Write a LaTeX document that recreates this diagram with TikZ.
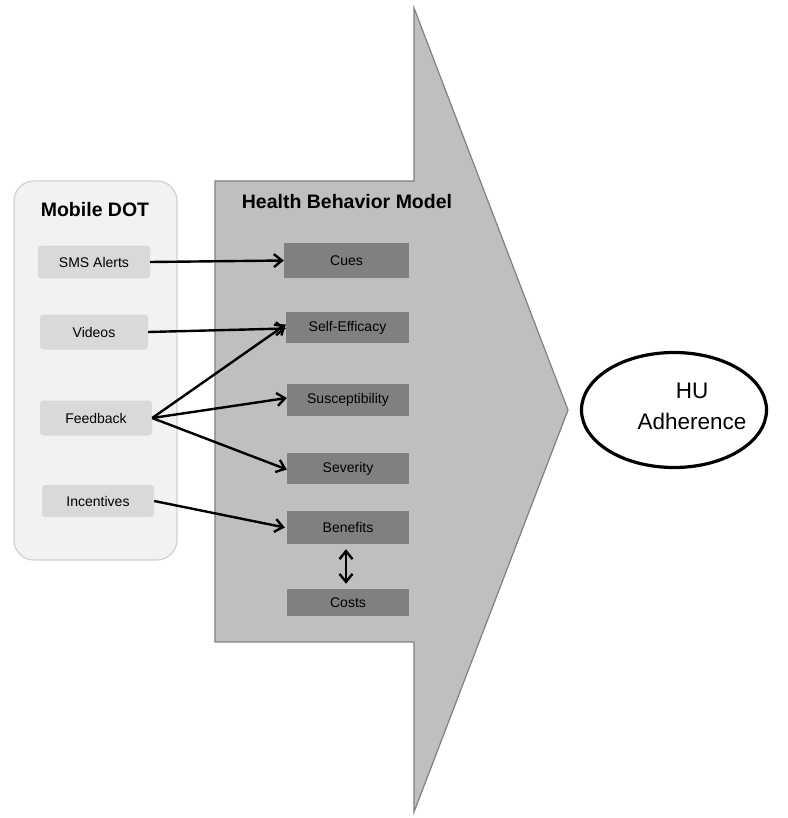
\documentclass[tikz,border=0pt]{standalone}
\usepackage{fontspec}
\setmainfont{Liberation Sans}
\usetikzlibrary{arrows.meta,shapes.geometric}
\begin{document}
\begin{tikzpicture}[x=1pt,y=-1pt,
  lbox/.style={draw=none,fill=black!15,rounded corners=3pt,minimum width=112pt,minimum height=33pt,font=\fontsize{14}{16}\selectfont,inner sep=0pt},
  rbox/.style={draw=none,fill=black!50,minimum width=123pt,minimum height=32pt,font=\fontsize{14}{16}\selectfont,inner sep=0pt},
  mytip/.tip={Straight Barb[length=8pt,width=13pt,line width=2.4pt]},
  conn/.style={line width=2.4pt,-{mytip}},
  title/.style={font=\bfseries\fontsize{19.5}{23}\selectfont}]
\useasboundingbox (0,0) rectangle (787,818);
% big arrow
\draw[draw=black!50,fill=black!25,line width=1.2pt] (215,181) -- (414,181) -- (414,8) -- (568,410) -- (414,812) -- (414,642) -- (215,642) -- cycle;
% mobile DOT panel
\draw[draw=black!18,fill=black!5,line width=1.2pt,rounded corners=20pt] (14,181) rectangle (177,560);
\node[title] (mdot) at (95,210) {Mobile DOT};
\node[title] (hbm) at (347,202) {Health Behavior Model};
% left boxes
\node[lbox] (sms) at (94,262) {SMS Alerts};
\node[lbox,minimum width=108pt,minimum height=35pt] (vid) at (94,332) {Videos};
\node[lbox,minimum height=35pt] (fb) at (96,418) {Feedback};
\node[lbox,minimum height=32pt] (inc) at (98,501) {Incentives};
% right boxes
\node[rbox,minimum width=125pt,minimum height=35pt] (cues) at (346.5,260.5) {Cues};
\node[rbox,minimum height=31pt] (se) at (347.5,327.5) {Self-Efficacy};
\node[rbox,minimum width=122pt] (sus) at (348,400) {Susceptibility};
\node[rbox,minimum width=122pt,minimum height=31pt] (sev) at (348,468.5) {Severity};
\node[rbox,minimum width=122pt,minimum height=33pt] (ben) at (348,527.5) {Benefits};
\node[rbox,minimum width=122pt,minimum height=27pt] (cost) at (348,602.5) {Costs};
% ellipse
\node[ellipse,draw=black,line width=3.2pt,minimum width=185pt,minimum height=115pt,inner sep=0pt] (hu) at (674,410) {};
\node[align=center,font=\fontsize{22.5}{31}\selectfont,inner sep=0pt] (hutext) at (692,406) {HU\\Adherence};
% connectors
\draw[conn] (sms.east) -- (cues.west);
\draw[conn] (vid.east) -- ([yshift=-1pt]se.west);
\draw[conn] (fb.east) -- ([yshift=3pt]se.west);
\draw[conn] (fb.east) -- ([yshift=2pt]sus.west);
\draw[conn] (fb.east) -- ([yshift=-1pt]sev.west);
\draw[conn] (inc.east) -- ([xshift=-2pt]ben.west);
\draw[line width=2.4pt,{mytip}-{mytip}] ([xshift=-2pt,yshift=-5pt]ben.south) -- ([xshift=-2pt,yshift=5pt]cost.north);
\end{tikzpicture}
\end{document}
